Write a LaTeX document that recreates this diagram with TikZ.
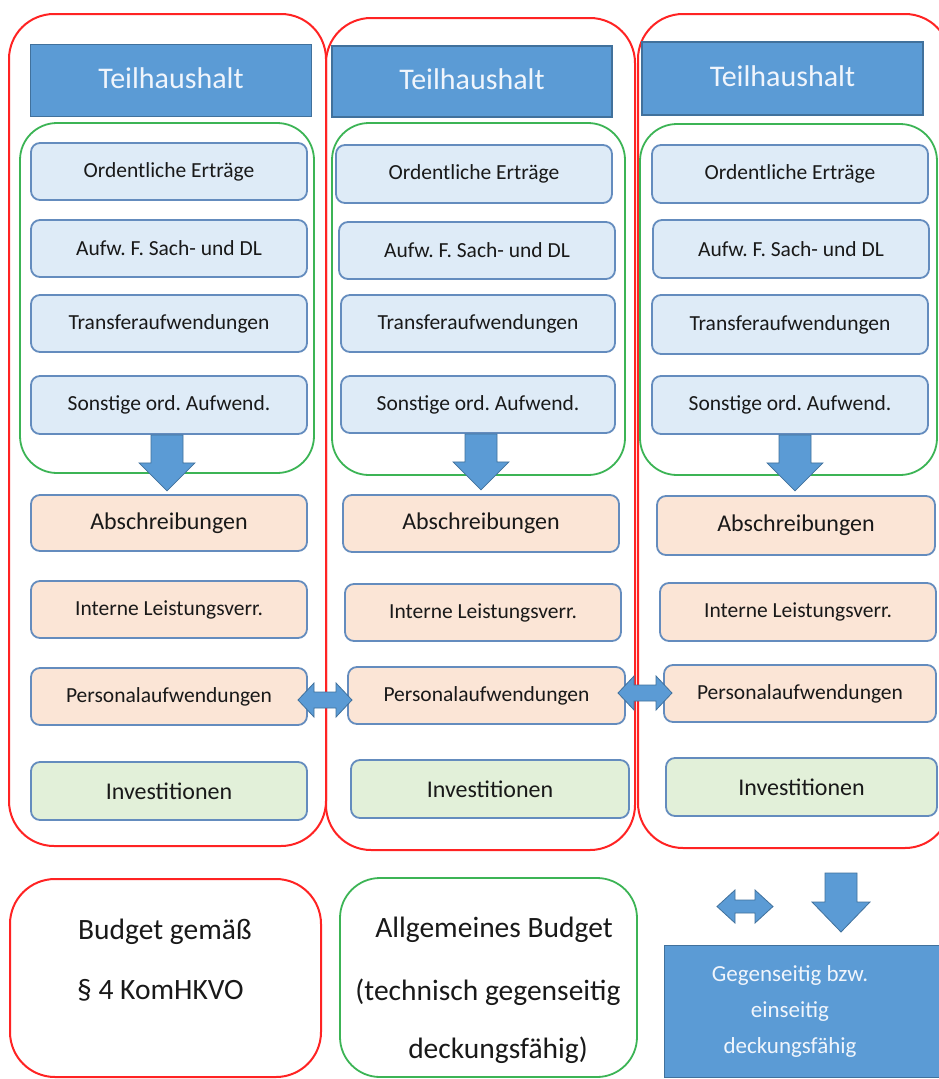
\documentclass[tikz,border=0pt]{standalone}
\usepackage{fontspec}
\setmainfont{Carlito}
\usetikzlibrary{calc}
\frenchspacing
\definecolor{redline}{RGB}{255,35,35}
\definecolor{greenline}{RGB}{60,180,85}
\definecolor{headblue}{RGB}{91,155,213}
\definecolor{headborder}{RGB}{65,113,156}
\definecolor{lightblue}{RGB}{222,235,247}
\definecolor{lightorange}{RGB}{251,229,214}
\definecolor{lightgreen}{RGB}{226,240,217}
\definecolor{boxborder}{RGB}{100,140,190}
\definecolor{headtext}{RGB}{240,245,252}
\definecolor{txt}{RGB}{25,25,25}
\newcommand{\hdtxt}{\raisebox{5pt}{Teilhaushalt}}
\tikzset{
  redframe/.style={draw=redline, line width=2pt, rounded corners=45pt},
  greenframe/.style={draw=greenline, line width=1.8pt, rounded corners=37pt},
  header/.style={draw=headborder, line width=1.2pt, fill=headblue, text=headtext,
    font=\fontsize{30}{32}\selectfont, minimum width=281pt, minimum height=72pt, inner sep=0pt},
  item/.style={draw=boxborder, line width=1.8pt, rounded corners=9pt, minimum width=276pt,
    minimum height=57pt, inner sep=0pt, font=\fontsize{21.5}{23}\selectfont, text=txt},
  ebox/.style={item, fill=lightblue},
  obox/.style={item, fill=lightorange},
  gbox/.style={item, fill=lightgreen},
  big/.style={font=\fontsize{24}{26}\selectfont},
  barrow/.style={fill=headblue, draw=headborder, line width=0.8pt},
  legtext/.style={font=\fontsize{29.5}{31}\selectfont, text=txt, inner sep=0pt},
}
\begin{document}
\begin{tikzpicture}[x=1pt,y=-1pt]
\clip (0,0) rectangle (939,1079);
\fill[white] (0,0) rectangle (939,1079);

% ---------- column frames ----------
\draw[redframe] (9,14) rectangle (326,846);
\draw[redframe] (326,18) rectangle (635,850);
\draw[redframe] (638,14) rectangle (950,848);
\draw[greenframe] (20,123) rectangle (314,473);
\draw[greenframe] (332,123) rectangle (625,475);
\draw[greenframe] (640,124) rectangle (937,475);

% ---------- column 1 ----------
\node[header] (h1) at (171,80.5) {\hdtxt};
\node[ebox] (o1) at (169,171.5) {Ordentliche Erträge};
\node[ebox] (a1) at (169,248.5) {Aufw. F. Sach- und DL};
\node[ebox] (t1) at (169,323.5) {Transferaufwendungen};
\node[ebox, minimum height=58pt] (s1) at (169,405) {Sonstige ord. Aufwend.};
\node[obox, big, minimum height=56pt] (ab1) at (169,523) {Abschreibungen};
\node[obox] (il1) at (169,609.5) {Interne Leistungsverr.};
\node[obox] (pa1) at (169,696.5) {Personalaufwendungen};
\node[gbox, big, minimum height=58pt] (in1) at (169,791) {Investitionen};

% ---------- column 2 ----------
\node[header, minimum width=280pt, minimum height=71pt] (h2) at (472,81.5) {\hdtxt};
\node[ebox, minimum height=58pt] (o2) at (474,174) {Ordentliche Erträge};
\node[ebox] (a2) at (477,250.5) {Aufw. F. Sach- und DL};
\node[ebox, minimum width=274pt] (t2) at (478,323.5) {Transferaufwendungen};
\node[ebox, minimum width=274pt] (s2) at (478,404.5) {Sonstige ord. Aufwend.};
\node[obox, big] (ab2) at (481,523.5) {Abschreibungen};
\node[obox] (il2) at (483,612.5) {Interne Leistungsverr.};
\node[obox, minimum width=277pt] (pa2) at (486.5,695.5) {Personalaufwendungen};
\node[gbox, big, minimum width=278pt, minimum height=58pt] (in2) at (490,789) {Investitionen};

% ---------- column 3 ----------
\node[header, minimum height=73pt] (h3) at (782.5,78.5) {\hdtxt};
\node[ebox, minimum height=58pt] (o3) at (790,174) {Ordentliche Erträge};
\node[ebox, minimum height=58pt] (a3) at (791,249) {Aufw. F. Sach- und DL};
\node[ebox, minimum height=59pt] (t3) at (790,324.5) {Transferaufwendungen};
\node[ebox, minimum height=58pt] (s3) at (790,405) {Sonstige ord. Aufwend.};
\node[obox, big, minimum width=278pt, minimum height=59pt] (ab3) at (796,525.5) {Abschreibungen};
\node[obox, minimum height=58pt] (il3) at (798,612) {Interne Leistungsverr.};
\node[obox, minimum width=272pt] (pa3) at (800,693.5) {Personalaufwendungen};
\node[gbox, big, minimum width=271pt, minimum height=58pt] (in3) at (801.5,787) {Investitionen};

% ---------- down block arrows ----------
\begin{scope}[shift={($(s1.south)+(-2,0)$)}]
  \draw[barrow] (-16,0) -- (-16,28) -- (-28,28) -- (0,56) -- (28,28) -- (16,28) -- (16,0) -- cycle;
\end{scope}
\begin{scope}[shift={($(s2.south)+(3,0)$)}]
  \draw[barrow] (-16,0) -- (-16,28) -- (-28,28) -- (0,56) -- (28,28) -- (16,28) -- (16,0) -- cycle;
\end{scope}
\begin{scope}[shift={($(s3.south)+(5,0)$)}]
  \draw[barrow] (-16,0) -- (-16,28) -- (-28,28) -- (0,56) -- (28,28) -- (16,28) -- (16,0) -- cycle;
\end{scope}

% ---------- double block arrows ----------
\begin{scope}[shift={($(pa1.east)!0.5!(pa2.west)+(-2.5,4)$)}]
  \draw[barrow] (-27,0) -- (-11,-17) -- (-11,-8) -- (11,-8) -- (11,-17) -- (27,0) -- (11,17) -- (11,8) -- (-11,8) -- (-11,17) -- cycle;
\end{scope}
\begin{scope}[shift={($(pa2.east)!0.5!(pa3.west)+(0.5,-1.5)$)}]
  \draw[barrow] (-27,0) -- (-11,-17) -- (-11,-8) -- (11,-8) -- (11,-17) -- (27,0) -- (11,17) -- (11,8) -- (-11,8) -- (-11,17) -- cycle;
\end{scope}

% ---------- legend ----------
\draw[redframe] (10,879) rectangle (321,1077);
\draw[greenframe, rounded corners=40pt] (340,878) rectangle (637,1077);

\node[legtext, anchor=west] (lb1) at (78,932) {Budget gemäß};
\node[legtext, anchor=west] (lb2) at (77,990) {§ 4 KomHKVO};
\node[legtext] (lg1) at (494,930) {Allgemeines Budget};
\node[legtext] (lg2) at (488,992) {(technisch gegenseitig};
\node[legtext] (lg3) at (498,1050) {deckungsfähig)};

\coordinate (ld) at (745,906.5);
\begin{scope}[shift={(ld)}]
  \draw[barrow] (-28,0) -- (-10,-16.5) -- (-10,-6.5) -- (10,-6.5) -- (10,-16.5) -- (28,0) -- (10,16.5) -- (10,6.5) -- (-10,6.5) -- (-10,16.5) -- cycle;
\end{scope}
\coordinate (lv) at (841,873);
\begin{scope}[shift={(lv)}]
  \draw[barrow] (-16,0) -- (-16,29) -- (-29,29) -- (0,59) -- (29,29) -- (16,29) -- (16,0) -- cycle;
\end{scope}

\node[draw=headborder, line width=1.2pt, fill=headblue, text=headtext, minimum width=290pt,
  minimum height=132pt, inner sep=0pt, anchor=north west] (lbox) at (664,945) {};
\node[font=\fontsize{23}{36}\selectfont, text=headtext, align=center, inner sep=0pt]
  (lboxt) at (790,1011) {Gegenseitig bzw.\\einseitig\\deckungsfähig};
\end{tikzpicture}
\end{document}
